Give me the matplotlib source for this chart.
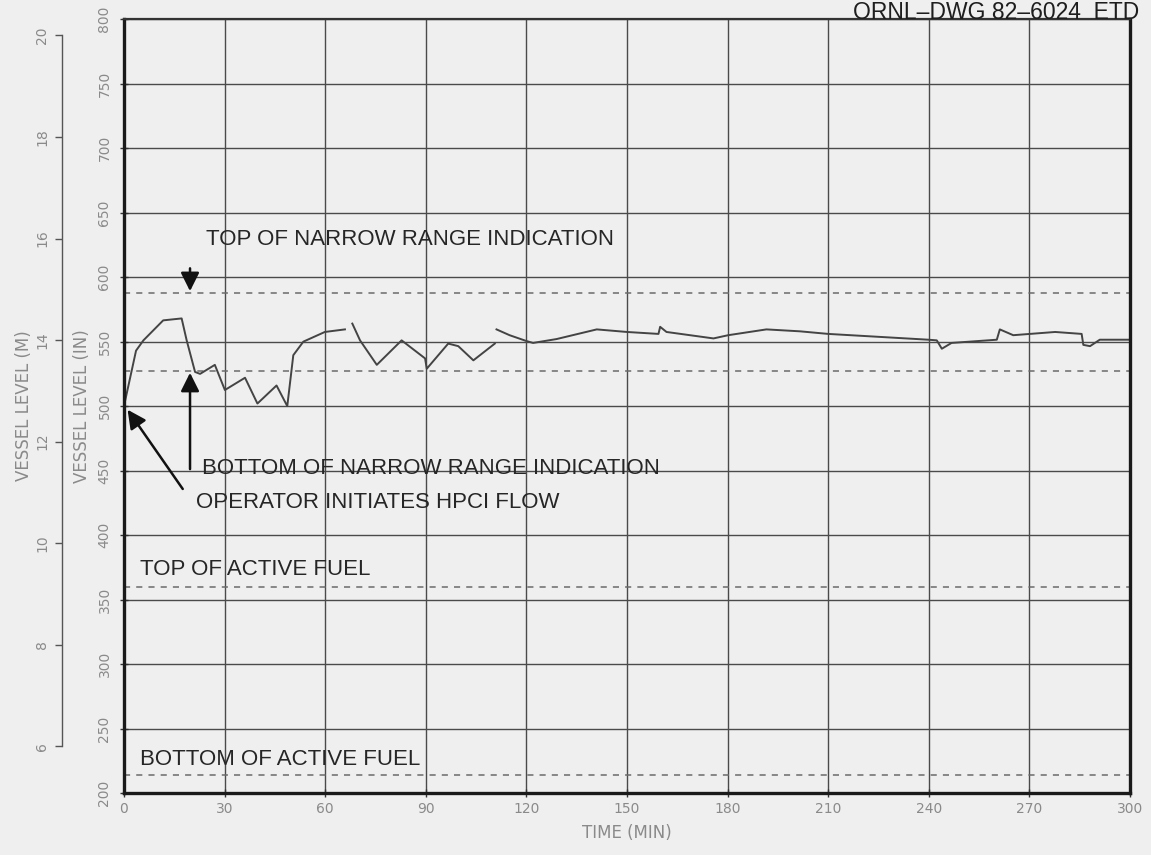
import numpy as np
import matplotlib
matplotlib.use("Agg")
import matplotlib.pyplot as plt

# vessel level trace (time in min, level in inches); nan = pen gap
time_min = [0, 3.6, 5.8, 11.7, 17.2, 18.7, 21.2, 22.7, 27.1, 30.1, 36.1, 39.8, 45.5, 48.7,
            50.5, 53.5, 59.9, 65.9, np.nan, 68.1, 70.4, 75.4, 82.8, 89.8, 90.3, 96.7, 99.7,
            104.2, 110.6, np.nan, 111.1, 115, 120, 122, 129, 141, 150, 159.4, 159.9, 161.8,
            175.8, 180.2, 191.6, 201.6, 210, 239.9, 242.4, 243.9, 246.8, 260.3, 261.2,
            265.2, 270.2, 277.7, 285.6, 286.1, 288.1, 291, 300]
level_in = [500, 543, 551, 566.5, 568, 551, 526.5, 525, 532, 512.5, 522, 502, 516, 500,
            539.5, 550, 557.5, 559.5, np.nan, 564, 551, 532, 551, 537, 529, 548.5, 546.5,
            535.5, 548.5, np.nan, 559.5, 555, 550.5, 549, 552, 559.5, 557.5, 556, 561.5, 557.5,
            552.5, 555, 559.5, 558, 556, 551.5, 551, 544.5, 549, 551.5, 559.5,
            555, 556, 557.5, 556, 547.5, 546.5, 551.5, 551.5]

# reference levels (inches)
ref_levels = [588, 527, 360, 214]

x_ticks = list(range(0, 301, 30))
y_ticks = list(range(200, 801, 50))
m_ticks = list(range(6, 21, 2))

bg = '#efefef'
grey_txt = '#8a8a8a'
label_font = ['Liberation Sans', 'DejaVu Sans']

fig = plt.figure(figsize=(11.51, 8.55), dpi=100, facecolor=bg)
ax = fig.add_axes([0.1077, 0.0725, 0.874, 0.905])
ax.set_facecolor(bg)

ax.set_xlim(0, 300)
ax.set_ylim(200, 800)
ax.set_xticks(x_ticks)
ax.set_yticks(y_ticks)
ax.grid(True, color='#4a4a4a', lw=1.0)
ax.set_axisbelow(True)

for side in ['left', 'bottom', 'right']:
    ax.spines[side].set_linewidth(2.4)
    ax.spines[side].set_color('#1a1a1a')
ax.spines['top'].set_linewidth(1.6)
ax.spines['top'].set_color('#333333')

ax.tick_params(axis='both', direction='inout', length=6, width=1, color='#333333',
               labelcolor=grey_txt, labelsize=10)
ax.tick_params(axis='y', labelrotation=90, pad=6)
for lab in ax.get_yticklabels():
    lab.set_va('center')

ax.set_xlabel('TIME (MIN)', color=grey_txt, fontsize=12, labelpad=6)
ax.set_ylabel('VESSEL LEVEL (IN)', color=grey_txt, fontsize=12, labelpad=5)

# reference dashed lines
for lv in ref_levels:
    ax.axhline(lv, color='#6a6a6a', lw=1.1, ls=(0, (4, 4)))

# the trace
ax.plot(time_min, level_in, color='#444444', lw=1.4)

# metre scale
sec = ax.secondary_yaxis(-0.0616, functions=(lambda v: v * 0.0254, lambda v: v / 0.0254))
sec.set_yticks(m_ticks)
sec.spines['left'].set_bounds(6, 20)
sec.spines['left'].set_color('#555555')
sec.spines['left'].set_linewidth(1.0)
sec.tick_params(axis='y', direction='out', length=5, width=1, color='#555555',
                labelcolor=grey_txt, labelsize=10, labelrotation=90, pad=4)
for lab in sec.get_yticklabels():
    lab.set_va('center')
sec.set_ylabel('VESSEL LEVEL (M)', color=grey_txt, fontsize=12, labelpad=2)

# annotations
txt_kw = dict(fontsize=16, color='#262626', family=label_font, va='center', ha='left')
arrow_kw = dict(arrowstyle='-|>', lw=1.8, color='#111111', mutation_scale=28)

ax.text(24.5, 629, 'TOP OF NARROW RANGE INDICATION', **txt_kw)
ax.annotate('', xy=(19.7, 587), xytext=(19.7, 609), arrowprops=arrow_kw)

ax.text(23.4, 452, 'BOTTOM OF NARROW RANGE INDICATION', **txt_kw)
ax.annotate('', xy=(19.7, 528), xytext=(19.7, 449), arrowprops=arrow_kw)

ax.text(21.5, 425, 'OPERATOR INITIATES HPCI FLOW', **txt_kw)
ax.annotate('', xy=(0.6, 499), xytext=(18.0, 434), arrowprops=arrow_kw)

ax.text(4.8, 373, 'TOP OF ACTIVE FUEL', **txt_kw)
ax.text(4.8, 226, 'BOTTOM OF ACTIVE FUEL', **txt_kw)

fig.text(0.990, 0.999, 'ORNL\u2013DWG 82\u20136024  ETD', ha='right', va='top',
         fontsize=16.5, color='#1e1e1e', family=label_font)

fig.savefig('out.png', dpi=100, facecolor=bg)
